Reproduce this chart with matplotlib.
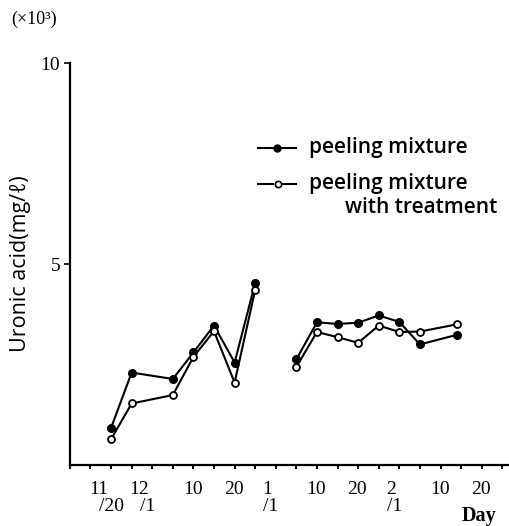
import matplotlib
matplotlib.use('Agg')
import matplotlib.pyplot as plt
import numpy as np

# days counted from 11/20 (axis ticks every 5 days)
days = [0, 5, 15, 20, 25, 30, 35, np.nan, 45, 50, 55, 60, 65, 70, 75, 84]
peeling = [0.92, 2.30, 2.14, 2.80, 3.47, 2.55, 4.53, np.nan,
           2.63, 3.55, 3.51, 3.54, 3.72, 3.56, 3.00, 3.24]
treated = [0.64, 1.53, 1.74, 2.69, 3.33, 2.05, 4.36, np.nan,
           2.44, 3.31, 3.18, 3.04, 3.47, 3.31, 3.32, 3.50]

# (day, upper part, lower part) for the x tick labels
date_labels = [(0, '11', '/20'), (10, '12', '/1'), (20, '10', ''), (30, '20', ''),
               (40, '1', '/1'), (50, '10', ''), (60, '20', ''), (70, '2', '/1'),
               (80, '10', ''), (90, '20', '')]

serif = ['Liberation Serif', 'DejaVu Serif']
sans = ['Open Sans', 'DejaVu Sans']

fig = plt.figure(figsize=(5.1, 5.26), dpi=100)
ax = fig.add_axes([0.137, 0.116, 0.86, 0.764])

ax.plot(days, peeling, color='black', lw=1.5, marker='o', ms=5.5,
        mfc='black', mec='black')
ax.plot(days, treated, color='black', lw=1.5, marker='o', ms=5,
        mfc='white', mec='black', mew=1.3)

ax.set_xlim(-10, 96.5)
ax.set_ylim(0, 10)
for s in ['top', 'right']:
    ax.spines[s].set_visible(False)
for s in ['left', 'bottom']:
    ax.spines[s].set_linewidth(1.6)

ax.set_yticks([5, 10])
ax.set_yticklabels(['5', '10'], fontfamily=serif, fontsize=14)
ax.tick_params(axis='y', length=4, width=1.2, pad=3)
ax.set_xticks(np.arange(-10, 96, 5))
ax.set_xticklabels([])
ax.tick_params(axis='x', length=3, width=1.5)

trans = ax.get_xaxis_transform()
for d, top, bottom in date_labels:
    if bottom:
        ax.text(d - 0.8, -0.04, top, transform=trans, ha='right', va='top',
                fontfamily=serif, fontsize=14)
        ax.text(d - 3.0, -0.082, bottom, transform=trans, ha='left', va='top',
                fontfamily=serif, fontsize=14)
    else:
        ax.text(d - 0.2, -0.04, top, transform=trans, ha='center', va='top',
                fontfamily=serif, fontsize=14)
fig.text(0.939, 0.010, 'Day', ha='center', va='baseline',
         fontfamily=serif, fontsize=14.5, fontweight='bold')

ax.set_ylabel('Uronic acid(mg/ℓ)', fontfamily=sans, fontsize=15.5, labelpad=7)
fig.text(0.022, 0.963, '(×10³)', fontfamily=serif, fontsize=13, va='center')

# hand-drawn legend
lx = [0.43, 0.515]
ax.plot(lx, [0.79, 0.79], transform=ax.transAxes, color='black', lw=1.5,
        clip_on=False)
ax.plot([0.473], [0.79], transform=ax.transAxes, marker='o', ms=5,
        color='black', clip_on=False)
ax.plot([0.43, 0.462], [0.70, 0.70], transform=ax.transAxes, color='black',
        lw=1.5, clip_on=False)
ax.plot([0.487, 0.515], [0.70, 0.70], transform=ax.transAxes, color='black',
        lw=1.5, clip_on=False)
ax.plot([0.474], [0.70], transform=ax.transAxes, marker='o', ms=4.5,
        mfc='white', mec='black', mew=1.2, clip_on=False)
ax.text(0.545, 0.79, 'peeling mixture', transform=ax.transAxes, va='center',
        fontfamily=sans, fontsize=15, fontweight='semibold')
ax.text(0.545, 0.70, 'peeling mixture', transform=ax.transAxes, va='center',
        fontfamily=sans, fontsize=15, fontweight='semibold')
ax.text(0.627, 0.64, 'with treatment', transform=ax.transAxes, va='center',
        fontfamily=sans, fontsize=15, fontweight='semibold')

fig.savefig('out.png', dpi=100)
